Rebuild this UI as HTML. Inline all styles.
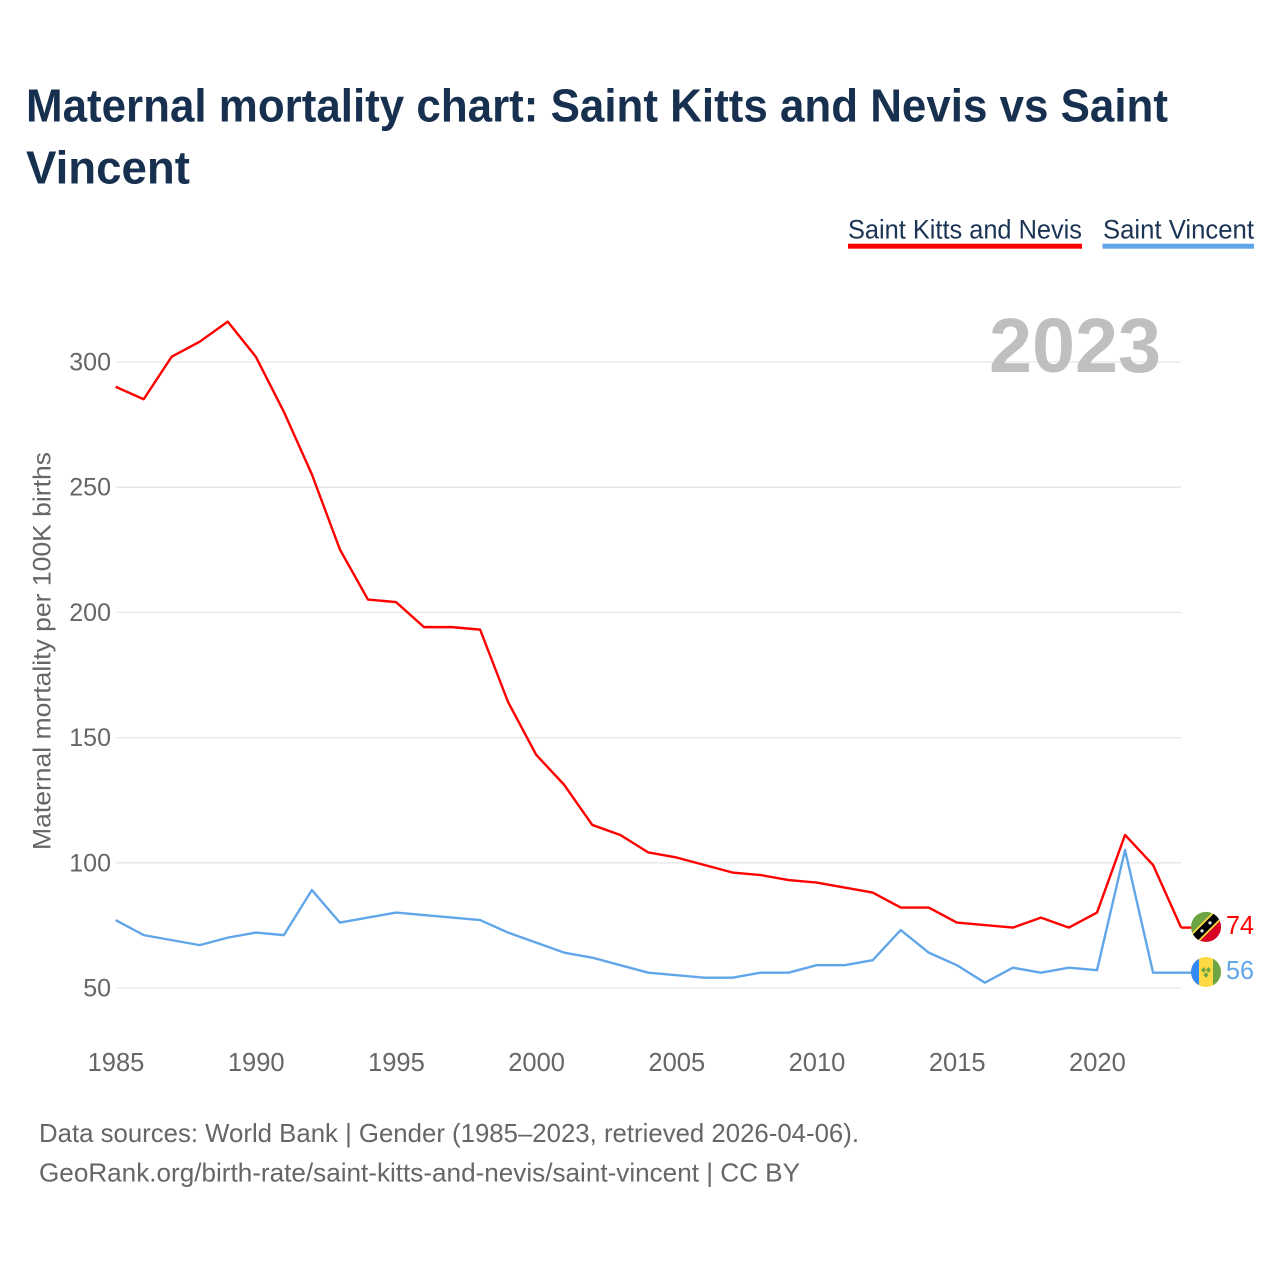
<!DOCTYPE html>
<html lang="en">
<head>
<meta charset="utf-8">
<title>Maternal mortality chart: Saint Kitts and Nevis vs Saint Vincent</title>
<style>
html,body{margin:0;padding:0;background:#fff;width:1280px;height:1280px;overflow:hidden}
svg{display:block}
text{font-family:"Liberation Sans",sans-serif}
</style>
</head>
<body>
<svg id="chart" xmlns="http://www.w3.org/2000/svg" width="1280" height="1280" viewBox="0 0 1280 1280">
  <rect width="1280" height="1280" fill="#ffffff"/>
  <g font-weight="700" font-size="46" fill="#17304f">
    <text x="26" y="121.5" textLength="1142" lengthAdjust="spacingAndGlyphs">Maternal mortality chart: Saint Kitts and Nevis vs Saint</text>
    <text x="26" y="183.5" textLength="164" lengthAdjust="spacingAndGlyphs">Vincent</text>
  </g>
  <g>
    <text x="848" y="238.5" font-size="27" fill="#1b3454" textLength="234" lengthAdjust="spacingAndGlyphs">Saint Kitts and Nevis</text>
    <rect x="848" y="243.7" width="234" height="5" fill="#ff0000"/>
  </g>
  <g>
    <text x="1103" y="238.5" font-size="27" fill="#1b3454" textLength="151" lengthAdjust="spacingAndGlyphs">Saint Vincent</text>
    <rect x="1102.5" y="243.7" width="151.5" height="5" fill="#62a6ea"/>
  </g>
  <g id="grid"></g>
  <text x="989" y="372" font-size="77" font-weight="700" fill="#bfbfbf" textLength="172" lengthAdjust="spacingAndGlyphs">2023</text>
  <g id="yTicks"></g>
  <g id="xTicks"></g>
  <text transform="translate(50.5 850) rotate(-90)" x="0" y="0" font-size="25" fill="#666666" textLength="398" lengthAdjust="spacingAndGlyphs">Maternal mortality per 100K births</text>
  <g id="series"></g>
  <defs>
    <clipPath id="clipKn"><circle cx="0" cy="0" r="15"/></clipPath>
    <clipPath id="clipVc"><circle cx="0" cy="0" r="15"/></clipPath>
  </defs>
  <g id="flagKn">
    <g clip-path="url(#clipKn)">
      <rect x="-15" y="-15" width="30" height="30" fill="#6da544"/>
      <polygon points="-15,15 15,-15 15,15" fill="#d80027"/>
      <polygon points="-15,7 7,-15 15,-15 15,-7 -7,15 -15,15" fill="#ffda44"/>
      <polygon points="-15,9.5 9.5,-15 15,-15 15,-9.5 -9.5,15 -15,15" fill="#000000"/>
      <circle cx="-4" cy="4" r="1.6" fill="#e8e8e8"/>
      <circle cx="4" cy="-4" r="1.6" fill="#e8e8e8"/>
    </g>
  </g>
  <g id="flagVc">
    <g clip-path="url(#clipVc)">
      <rect x="-15" y="-15" width="30" height="30" fill="#ffda44"/>
      <rect x="-15" y="-15" width="8" height="30" fill="#338af3"/>
      <rect x="7" y="-15" width="8" height="30" fill="#6da544"/>
      <polygon points="-5,-2 -2.5,-5 0,-2 -2.5,1" fill="#6da544"/>
      <polygon points="0,-2 2.5,-5 5,-2 2.5,1" fill="#6da544"/>
      <polygon points="-2.5,3 0,0 2.5,3 0,6" fill="#6da544"/>
    </g>
  </g>
  <text id="labelKn" x="1226" font-size="26" fill="#ff0000" textLength="28" lengthAdjust="spacingAndGlyphs"></text>
  <text id="labelVc" x="1226" font-size="26" fill="#62a6ea" textLength="28" lengthAdjust="spacingAndGlyphs"></text>
  <g font-size="26" fill="#666666">
    <text x="39" y="1142" textLength="820" lengthAdjust="spacingAndGlyphs">Data sources: World Bank | Gender (1985–2023, retrieved 2026-04-06).</text>
    <text x="39" y="1181.5" textLength="761" lengthAdjust="spacingAndGlyphs">GeoRank.org/birth-rate/saint-kitts-and-nevis/saint-vincent | CC BY</text>
  </g>
</svg>
<script>
const startYear = 1985;
const yTickValues = [50, 100, 150, 200, 250, 300];
const xTickValues = [1985, 1990, 1995, 2000, 2005, 2010, 2015, 2020];
const saintKittsValues = [290, 285, 302, 308, 316, 302, 280, 255, 225, 205, 204, 194, 194, 193, 164, 143, 131, 115, 111, 104, 102, 99, 96, 95, 93, 92, 90, 88, 82, 82, 76, 75, 74, 78, 74, 80, 111, 99, 74];
const saintVincentValues = [77, 71, 69, 67, 70, 72, 71, 89, 76, 78, 80, 79, 78, 77, 72, 68, 64, 62, 59, 56, 55, 54, 54, 56, 56, 59, 59, 61, 73, 64, 59, 52, 58, 56, 58, 57, 105, 56, 56];

const NS = 'http://www.w3.org/2000/svg';
function xScale(year) { return 116 + (year - 1985) * 28.04; }
function yScale(v) { return 988 - (v - 50) * 2.504; }

const grid = document.getElementById('grid');
const yTicks = document.getElementById('yTicks');
yTickValues.forEach(function (v) {
  const line = document.createElementNS(NS, 'line');
  
  
  line.setAttribute('x1', 116);
  line.setAttribute('x2', 1181);
  line.setAttribute('y1', yScale(v));
  line.setAttribute('y2', yScale(v));
  line.setAttribute('stroke', '#e6e6e6');
  line.setAttribute('stroke-width', '1.3');
  grid.appendChild(line);
  const t = document.createElementNS(NS, 'text');
  
  
  t.setAttribute('x', 111);
  t.setAttribute('y', yScale(v) + 8.5);
  t.setAttribute('text-anchor', 'end');
  t.setAttribute('font-size', '25');
  t.setAttribute('fill', '#666666');
  t.textContent = String(v);
  yTicks.appendChild(t);
});

const xTicks = document.getElementById('xTicks');
xTickValues.forEach(function (yr) {
  const t = document.createElementNS(NS, 'text');
  
  
  t.setAttribute('x', xScale(yr));
  t.setAttribute('y', 1071);
  t.setAttribute('text-anchor', 'middle');
  t.setAttribute('font-size', '25.5');
  t.setAttribute('fill', '#666666');
  t.textContent = String(yr);
  xTicks.appendChild(t);
});

function pointsOf(values) {
  return values.map(function (v, i) {
    return (xScale(startYear + i) - 0.4).toFixed(2) + ',' + (yScale(v) - 0.3).toFixed(2);
  }).join(' ');
}

const series = document.getElementById('series');
const redLine = document.createElementNS(NS, 'polyline');


redLine.setAttribute('points', pointsOf(saintKittsValues));
redLine.setAttribute('fill', 'none');
redLine.setAttribute('stroke', '#ff0000');
redLine.setAttribute('stroke-width', '2.4');
redLine.setAttribute('stroke-linejoin', 'round');
series.appendChild(redLine);

const blueLine = document.createElementNS(NS, 'polyline');


blueLine.setAttribute('points', pointsOf(saintVincentValues));
blueLine.setAttribute('fill', 'none');
blueLine.setAttribute('stroke', '#62a6ea');
blueLine.setAttribute('stroke-width', '2.4');
blueLine.setAttribute('stroke-linejoin', 'round');
series.appendChild(blueLine);

function connector(value, color, name) {
  const c = document.createElementNS(NS, 'line');
  
  
  c.setAttribute('x1', xScale(2023) - 0.4);
  c.setAttribute('x2', 1195);
  c.setAttribute('y1', yScale(value) - 0.3);
  c.setAttribute('y2', yScale(value) - 0.3);
  c.setAttribute('stroke', color);
  c.setAttribute('stroke-width', '2.4');
  series.appendChild(c);
}
const lastKn = saintKittsValues[saintKittsValues.length - 1];
const lastVc = saintVincentValues[saintVincentValues.length - 1];
connector(lastKn, '#ff0000', 'saint-kitts-and-nevis-connector');
connector(lastVc, '#62a6ea', 'saint-vincent-connector');

document.getElementById('flagKn').setAttribute('transform', 'translate(1206 ' + (yScale(lastKn) - 1) + ')');
document.getElementById('flagVc').setAttribute('transform', 'translate(1206 ' + (yScale(lastVc) - 1) + ')');
const labelKn = document.getElementById('labelKn');
labelKn.setAttribute('y', yScale(lastKn) + 6);
labelKn.textContent = String(lastKn);
const labelVc = document.getElementById('labelVc');
labelVc.setAttribute('y', yScale(lastVc) + 6);
labelVc.textContent = String(lastVc);
</script>
</body>
</html>
